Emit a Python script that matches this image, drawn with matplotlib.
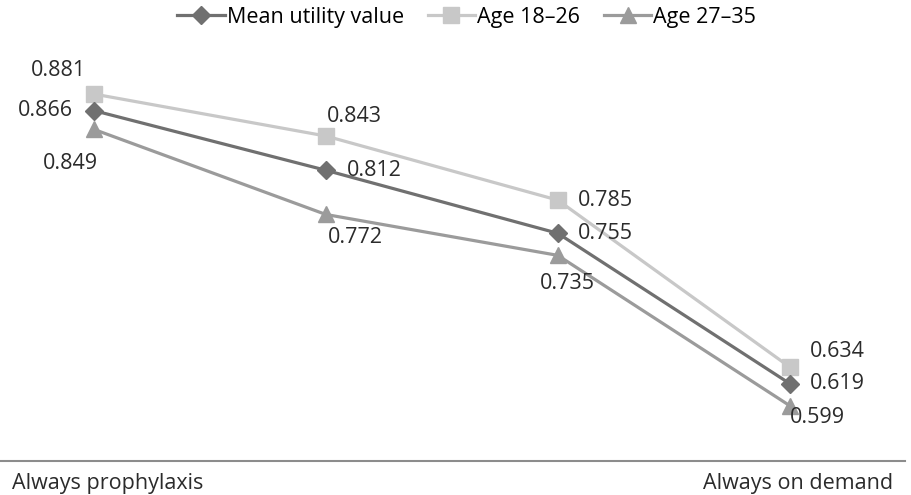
import matplotlib.pyplot as plt
import matplotlib as mpl

mpl.rcParams.update({
    "font.family": ["Open Sans", "DejaVu Sans"],
    "font.size": 15.5,
})

scenarios = ["Always prophylaxis", "", "", "Always on demand"]
mean_vals = [0.866, 0.812, 0.755, 0.619]
age_18_26 = [0.881, 0.843, 0.785, 0.634]
age_27_35 = [0.849, 0.772, 0.735, 0.599]

# label offsets in pixels (dx, dy, ha)
mean_offsets = [(-21, 0, "right"), (21, 0, "left"), (20, 0, "left"), (20, 0, "left")]
young_offsets = [(-35, 24, "center"), (29, 20, "center"), (20, 0, "left"), (20, 15, "left")]
old_offsets = [(-23, -34, "center"), (30, -23, "center"), (10, -28, "center"), (0, -12, "left")]

fig = plt.figure(figsize=(9.12, 4.95), dpi=100)
ax = fig.add_axes([0, 0.0687, 0.992, 0.9313])

x = range(len(mean_vals))
ax.plot(x, mean_vals, color="#707070", lw=2.3, marker="D", ms=9, label="Mean utility value", zorder=3)
ax.plot(x, age_18_26, color="#c8c8c8", lw=2.3, marker="s", ms=11, label="Age 18\u201326", zorder=2)
ax.plot(x, age_27_35, color="#9b9b9b", lw=2.3, marker="^", ms=11, label="Age 27\u201335", zorder=2)

for vals, offs in [(mean_vals, mean_offsets), (age_18_26, young_offsets), (age_27_35, old_offsets)]:
    for i, v in enumerate(vals):
        dx, dy, ha = offs[i]
        ax.annotate(f"{v:.3f}", (i, v), xytext=(dx, dy), textcoords="offset pixels",
                    ha=ha, va="center", color="#2b2b2b")

ax.set_xlim(-0.405, 3.496)
ax.set_ylim(0.5489, 0.9661)
ax.set_yticks([])
ax.set_xticks([])
for s in ["top", "right", "left"]:
    ax.spines[s].set_visible(False)
ax.spines["bottom"].set_color("#8c8c8c")
ax.spines["bottom"].set_linewidth(1.5)

fig.text(12 / 912, 6 / 495, scenarios[0], ha="left", va="baseline", color="#2b2b2b")
fig.text(893 / 912, 6 / 495, scenarios[-1], ha="right", va="baseline", color="#2b2b2b")

ax.legend(loc="center", bbox_to_anchor=(0.516, 0.962), ncol=3, frameon=False,
          handlelength=2.2, handletextpad=0.1, columnspacing=1.1, borderpad=0)

plt.savefig("out.png", dpi=100)
